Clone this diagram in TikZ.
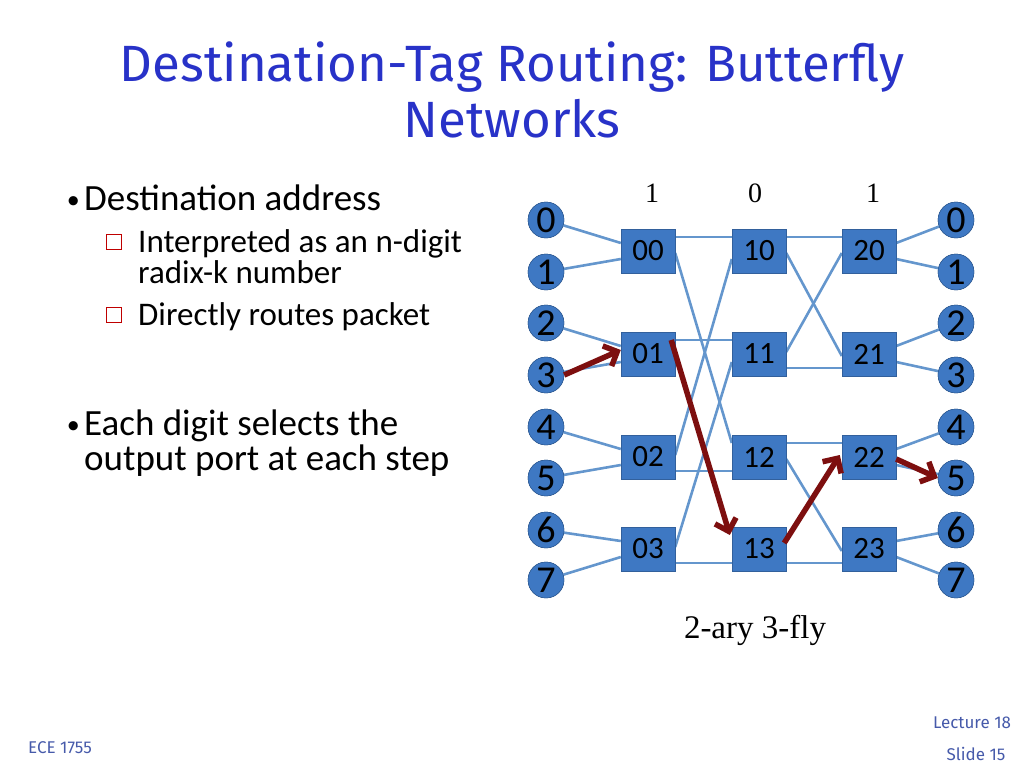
\documentclass[tikz,border=0pt]{standalone}
\usepackage{fontspec}
\setmainfont{Liberation Serif}
\newfontfamily\bodyfont{Carlito}
\newfontfamily\titlefont{Fira Sans}
\usetikzlibrary{calc,arrows.meta}
\definecolor{ttlblue}{RGB}{40,50,200}
\definecolor{netblue}{RGB}{62,120,195}
\definecolor{linkblue}{RGB}{100,150,205}
\definecolor{pathred}{RGB}{125,15,15}
\definecolor{footblue}{RGB}{70,90,170}
\begin{document}
\begin{tikzpicture}[x=1pt, y=-1pt]
	% % % % % % % % % % % % % % % % % % % % % % % % % % % % % %
	% Define styles
	\tikzset{port/.style = {circle, fill=netblue, draw=netblue!70!black, minimum size=36pt, inner sep=0pt, font=\bodyfont\fontsize{38}{38}\selectfont},
		swbox/.style = {rectangle, fill=netblue, draw=netblue!80!black, minimum width=54pt, minimum height=44pt, inner sep=0pt, font=\bodyfont\fontsize{31}{31}\selectfont},
		link/.style = {draw=linkblue, line width=2.6pt},
		route/.style = {draw=pathred, line width=5.5pt, -{Straight Barb[length=11pt,width=22pt]}},
		body/.style = {anchor=base west, inner sep=0pt, font=\bodyfont\fontsize{37}{37}\selectfont},
		sub/.style = {body, font=\bodyfont\fontsize{33}{33}\selectfont},
		chk/.style = {draw=red!75!black, fill=white, line width=1.3pt, minimum size=15pt, inner sep=0pt}}
	\useasboundingbox (0,0) rectangle (1024,768);
	% % % % % % % % % % % % % % % % % % % % % % % % % % % % % %
	% Title
	\node [text=ttlblue, font=\titlefont\fontsize{51}{56}\selectfont, align=center] (ttl) at (512,90) {Destination-Tag Routing: Butterfly\\Networks};
	% Bullets
	\node [body] (b1) at (84,210) {Destination address};
	\node [body, anchor=base east, font=\bodyfont\fontsize{26}{26}\selectfont] (d1) at (80,208) {\textbullet};
	\node [sub] (s1) at (138,252) {Interpreted as an n-digit};
	\node [sub] (s2) at (138,283) {radix-k number};
	\node [sub] (s3) at (138,325) {Directly routes packet};
	\node [chk] (c1) at (114,242) {};
	\node [chk] (c3) at (114,315) {};
	\node [body] (b2) at (84,435) {Each digit selects the};
	\node [body, anchor=base east, font=\bodyfont\fontsize{26}{26}\selectfont] (d2) at (80,433) {\textbullet};
	\node [body] (b3) at (84,470) {output port at each step};
	% % % % % % % % % % % % % % % % % % % % % % % % % % % % % %
	% Ports
	\foreach \i/\y in {0/220, 1/272, 2/323, 3/375, 4/427, 5/478, 6/530, 7/580} {
		\node [port] (in\i) at (546,\y) {\i};
		\node [port] (out\i) at (956,\y) {\i};
	}
	% Switches
	\foreach \c/\x in {0/648, 1/759, 2/869} {
		\foreach \r/\y in {0/251, 1/354, 2/457, 3/549} {
			\node [swbox] (s\c\r) at (\x,\y) {\c\r};
		}
	}
	% Digit labels
	\node [font=\fontsize{28}{28}\selectfont] (g0) at (652,193) {1};
	\node [font=\fontsize{28}{28}\selectfont] (g1) at (755,193) {0};
	\node [font=\fontsize{28}{28}\selectfont] (g2) at (873,193) {1};
	\node [font=\fontsize{33}{33}\selectfont] (cap) at (755,630) {2-ary 3-fly};
	% % % % % % % % % % % % % % % % % % % % % % % % % % % % % %
	% Draw links
	\foreach \r in {0,1,2,3} {
		\pgfmathtruncatemacro{\a}{2*\r}
		\pgfmathtruncatemacro{\b}{2*\r+1}
		\path [link] (in\a) -- ($(s0\r.west)+(0,-8)$);
		\path [link] (in\b) -- ($(s0\r.west)+(0,8)$);
		\path [link] ($(s2\r.east)+(0,-8)$) -- (out\a);
		\path [link] ($(s2\r.east)+(0,8)$) -- (out\b);
	}
	% stage 0 to 1
	\path [link] ($(s00.east)+(0,-14)$) -- ($(s10.west)+(0,-14)$);
	\path [link] ($(s00.east)+(0,2)$) -- ($(s12.west)+(0,-14)$);
	\path [link] ($(s01.east)+(0,-14)$) -- ($(s11.west)+(0,-14)$);
	\path [link] ($(s02.east)+(0,14)$) -- ($(s12.west)+(0,14)$);
	\path [link] ($(s02.east)+(0,-2)$) -- ($(s10.west)+(0,8)$);
	\path [link] ($(s03.east)+(0,14)$) -- ($(s13.west)+(0,14)$);
	\path [link] ($(s03.east)+(0,-2)$) -- ($(s11.west)+(0,8)$);
	% stage 1 to 2
	\path [link] ($(s10.east)+(0,-14)$) -- ($(s20.west)+(0,-14)$);
	\path [link] ($(s10.east)+(0,2)$) -- ($(s21.west)+(0,2)$);
	\path [link] ($(s11.east)+(0,14)$) -- ($(s21.west)+(0,14)$);
	\path [link] ($(s11.east)+(0,-2)$) -- ($(s20.west)+(0,2)$);
	\path [link] ($(s12.east)+(0,-14)$) -- ($(s22.west)+(0,-14)$);
	\path [link] ($(s12.east)+(0,2)$) -- ($(s23.west)+(0,2)$);
	\path [link] ($(s13.east)+(0,14)$) -- ($(s23.west)+(0,14)$);
	% redraw switches and ports on top
	\foreach \c in {0,1,2} {
		\foreach \r in {0,1,2,3} {
			\node [swbox] at (s\c\r) {\c\r};
		}
	}
	\foreach \i in {0,...,7} {
		\node [port] at (in\i) {\i};
		\node [port] at (out\i) {\i};
	}
	% Route of the packet
	\path [route] (in3.east) -- ($(s01.west)+(0,-4)$);
	\path [route] ($(s01.east)+(-4,-14)$) -- ($(s13.west)+(-2,-14)$);
	\path [route] ($(s13.east)+(-2,-6)$) -- ($(s22.west)+(-2,-2)$);
	\path [route] ($(s22.east)+(0,2)$) -- (out5.west);
	% % % % % % % % % % % % % % % % % % % % % % % % % % % % % %
	% Footer
	\node [text=footblue, font=\titlefont\fontsize{17}{17}\selectfont] (crs) at (60,748) {ECE 1755};
	\node [text=footblue, font=\titlefont\fontsize{17}{17}\selectfont] (lec) at (972,723) {Lecture 18};
	\node [text=footblue, font=\titlefont\fontsize{17}{17}\selectfont] (sld) at (976,754) {Slide 15};
\end{tikzpicture}
\end{document}
